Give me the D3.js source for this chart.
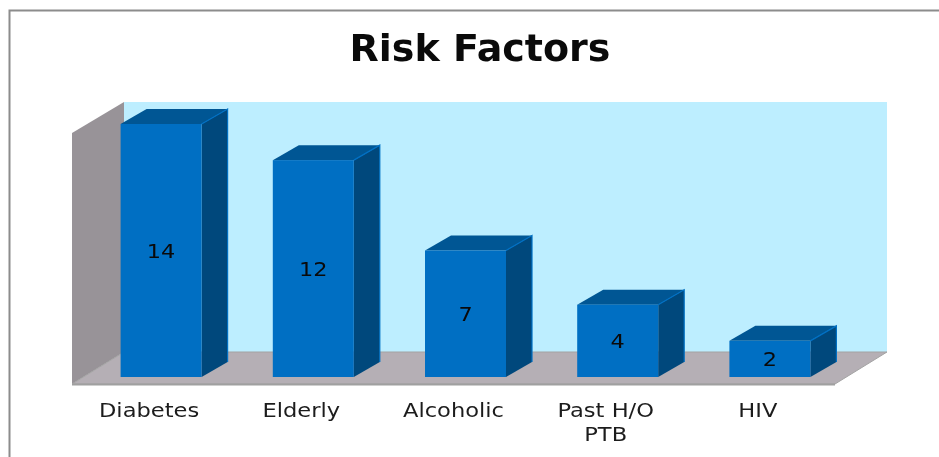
<!DOCTYPE html>
<html>
<head>
<meta charset="utf-8">
<script src="https://cdn.jsdelivr.net/npm/d3@7"></script>
<style>
  html, body { margin: 0; padding: 0; background: #fff; }
  svg { display: block; font-family: "DejaVu Sans", sans-serif; }
</style>
</head>
<body>
<svg id="chart"></svg>
<script>
const categories = ['Diabetes', 'Elderly', 'Alcoholic', 'Past H/O PTB', 'HIV'];
const values = [14, 12, 7, 4, 2];
const yDomain = [0, 14];

const width = 939;
const height = 457;
// offset of the back of the 3d box, and of the back of each bar
const depth = { x: 52, y: -32 };
const barDepth = { x: 26, y: -15 };

const svg = d3.select('#chart')
  .attr('width', width)
  .attr('height', height)
  .style('filter', 'blur(0.6px)');

// Outer frame, only the top and left sides are visible
svg.append('path')
  .attr('d', `M9.5,${height} V10.5 H${width}`)
  .attr('fill', 'none')
  .attr('stroke', '#8c8c8c')
  .attr('stroke-width', 2);

svg.append('text')
  .attr('x', 480)
  .attr('y', 61)
  .attr('text-anchor', 'middle')
  .attr('font-size', 38)
  .attr('font-weight', 'bold')
  .attr('fill', '#0a0a0a')
  .text('Risk Factors');

const x = d3.scaleBand()
  .domain(categories)
  .range([72, 833]);

const y = d3.scaleLinear()
  .domain(yDomain)
  .range([377, 124]);

const barWidth = 81;
const bottom = 384;
const left = 72;
const right = 835;
const wallTop = 133;

const poly = (pts) => pts.map(p => p.join(',')).join(' ');

// Back wall
svg.append('polygon')
  .attr('points', poly([
    [left + depth.x, wallTop + depth.y + 1],
    [right + depth.x, wallTop + depth.y + 1],
    [right + depth.x, bottom + depth.y],
    [left + depth.x, bottom + depth.y]
  ]))
  .attr('fill', '#bdeeff');

// Left wall
svg.append('polygon')
  .attr('points', poly([
    [left, wallTop],
    [left + depth.x, wallTop + depth.y + 1],
    [left + depth.x, bottom + depth.y],
    [left, bottom]
  ]))
  .attr('fill', '#989398');

// Floor
svg.append('polygon')
  .attr('points', poly([
    [left, bottom],
    [left + depth.x, bottom + depth.y],
    [right + depth.x, bottom + depth.y],
    [right, bottom]
  ]))
  .attr('fill', '#b5afb5')
  .attr('stroke', '#a3a3a3')
  .attr('stroke-width', 1);

svg.append('line')
  .attr('x1', left)
  .attr('x2', right)
  .attr('y1', bottom + 0.5)
  .attr('y2', bottom + 0.5)
  .attr('stroke', '#a0a0a0')
  .attr('stroke-width', 2);

// Bars, drawn as top, side and front faces
const barX = d => x(d.cat) + x.bandwidth() / 2 + barDepth.x / 2 - barWidth / 2;
const bars = svg.selectAll('.bar')
  .data(categories.map((cat, i) => ({ cat, value: values[i] })))
  .enter()
  .append('g')
  .attr('class', 'bar');

bars.append('polygon')
  .attr('points', d => {
    const x0 = barX(d), yTop = y(d.value);
    return poly([
      [x0, yTop],
      [x0 + barDepth.x, yTop + barDepth.y],
      [x0 + barWidth + barDepth.x, yTop + barDepth.y],
      [x0 + barWidth, yTop]
    ]);
  })
  .attr('fill', '#005694');

bars.append('polygon')
  .attr('points', d => {
    const x0 = barX(d) + barWidth, yTop = y(d.value), y0 = y(0);
    return poly([
      [x0, yTop],
      [x0 + barDepth.x, yTop + barDepth.y],
      [x0 + barDepth.x, y0 + barDepth.y],
      [x0, y0]
    ]);
  })
  .attr('fill', '#00487c');

// Light edges around the side face
bars.append('path')
  .attr('d', d => {
    const x0 = barX(d) + barWidth, yTop = y(d.value), y0 = y(0);
    return `M${x0},${yTop} L${x0 + barDepth.x},${yTop + barDepth.y} V${y0 + barDepth.y}`;
  })
  .attr('fill', 'none')
  .attr('stroke', '#0070c4')
  .attr('stroke-width', 1.2);

bars.append('rect')
  .attr('x', barX)
  .attr('y', d => y(d.value))
  .attr('width', barWidth)
  .attr('height', d => y(0) - y(d.value))
  .attr('fill', '#006fc3');

// Value labels, centred on the front face
bars.append('text')
  .attr('transform', d => `translate(${barX(d) + barWidth / 2},${(y(d.value) + y(0)) / 2 + 7}) scale(1.12,1)`)
  .attr('text-anchor', 'middle')
  .attr('font-size', 20)
  .attr('fill', '#0a0a0a')
  .text(d => d.value);

// Category labels are a bit wider than the font, only the long one wraps
const labels = svg.selectAll('.cat')
  .data(categories)
  .enter()
  .append('text')
  .attr('class', 'cat')
  .attr('transform', d => `translate(${x(d) + x.bandwidth() / 2 + 1},0) scale(1.13,1)`)
  .attr('text-anchor', 'middle')
  .attr('font-size', 20)
  .attr('fill', '#1c1c1c');

labels.each(function (d) {
  const lines = d === 'Past H/O PTB' ? ['Past H/O', 'PTB'] : [d];
  d3.select(this).selectAll('tspan')
    .data(lines)
    .enter()
    .append('tspan')
    .attr('x', 0)
    .attr('y', (l, i) => 417 + i * 24)
    .text(l => l);
});
</script>
</body>
</html>
